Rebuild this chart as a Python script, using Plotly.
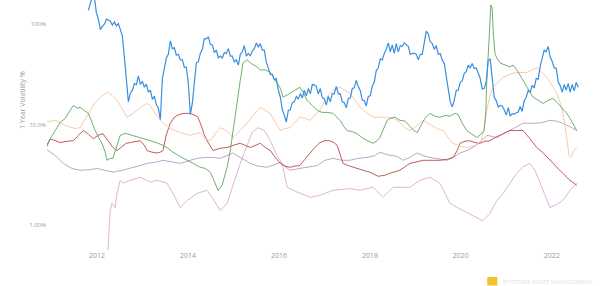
import plotly.graph_objects as go

# ---------------- data (1 year volatility, %) ----------------
btc_start = 2011.81
btc_step = 0.04396
btc_vol = [
    137, 160, 190, 185, 130, 112, 88, 95, 100, 112,
    110, 107, 98, 105, 96, 101, 88, 76, 47, 28.5,
    16.8, 20.5, 22, 25.5, 25, 30.5, 25, 27, 23.5, 25.3,
    21, 22, 17.8, 19.2, 15.8, 14.5, 11.2, 28.5, 37, 46,
    50, 68, 57, 58, 49, 50, 44, 44, 37, 37,
    25.5, 12.6, 16.3, 28, 41, 42, 51, 56, 72, 71,
    75, 63, 62, 52, 55, 46, 48, 46, 52, 51,
    57, 48, 48, 42, 44, 39, 50, 53, 61, 48,
    51, 48, 54, 57, 65, 59, 64, 55, 55, 42,
    36.5, 31.5, 31.5, 27.8, 28.7, 22,
    18.8, 14, 12.4, 10.6, 13.8, 14, 16.5, 16.8, 19, 18,
    20.3, 18.4, 21.8, 19.3, 22.8, 20.2, 25, 24.8, 24, 20.2,
    22.8, 18.4, 18.1, 15.6, 19, 16.8, 20.3, 20.2, 24, 20.2,
    20.3, 16.8, 16.5, 14.7, 18.1, 18.4, 22.8, 23.2, 27.5, 23.7,
    21.8, 17.5, 17.3, 15.3, 19, 19.3, 24, 26.5, 34.5, 36.5,
    45,
    44, 51, 56, 65, 53, 62, 51, 64, 53, 61,
    60, 65, 63, 60, 50, 51, 51, 50, 44, 50,
    50, 68, 85, 80, 67, 64, 56, 61, 50, 51,
    44, 40.5, 30, 21.2, 16.8, 15, 17.5, 21.8, 22, 26.3,
    27.2, 32.3, 33.6, 39, 36.5, 40.5, 36, 36.5, 31.7, 28.7,
    22.6, 22.8, 26.5, 43.5, 45, 26.8, 18.7, 17.3, 14.9, 15.5,
    15.3, 14, 12.4, 14.7, 12.1, 12.8, 12.7, 13.1, 13.3, 15.1,
    13.5, 17.3, 18.7, 21.8, 21, 24.5, 23.1, 28.7, 28.3, 38,
    45, 55, 53, 60, 47, 42.5, 36.5, 36.4, 26.5, 24.4,
    21, 25, 22, 25.6, 21, 25, 21.6, 26.2, 23.5,
]
btc_years = [btc_start + i * btc_step for i in range(len(btc_vol))]

green_years = [2010.86, 2010.97, 2011.08, 2011.19, 2011.30, 2011.41, 2011.48, 2011.56, 2011.63, 2011.72,
               2011.81, 2011.89, 2011.96, 2012.05, 2012.11, 2012.18, 2012.22, 2012.29, 2012.35, 2012.42,
               2012.51, 2012.60, 2012.66, 2012.77, 2012.86, 2012.95, 2013.06, 2013.17, 2013.30, 2013.45,
               2013.56, 2013.67, 2013.83, 2013.98, 2014.11, 2014.27, 2014.38, 2014.49, 2014.57, 2014.66,
               2014.75, 2014.82, 2014.86, 2014.93, 2014.99, 2015.06, 2015.15, 2015.21, 2015.30, 2015.41,
               2015.50, 2015.59, 2015.70, 2015.81, 2015.92, 2016.03, 2016.09, 2016.18, 2016.24, 2016.35,
               2016.46, 2016.53, 2016.62, 2016.73, 2016.84, 2016.95, 2017.06, 2017.19, 2017.28, 2017.34,
               2017.43, 2017.50, 2017.61, 2017.72, 2017.83, 2017.94, 2018.07, 2018.16, 2018.22, 2018.31,
               2018.38, 2018.44, 2018.55, 2018.66, 2018.77, 2018.88, 2018.97, 2019.04, 2019.12, 2019.21,
               2019.32, 2019.43, 2019.54, 2019.65, 2019.76, 2019.87, 2019.94, 2020.02, 2020.13, 2020.24,
               2020.35, 2020.44, 2020.51, 2020.55, 2020.57, 2020.62, 2020.64, 2020.66, 2020.69, 2020.71,
               2020.75, 2020.79, 2020.86, 2020.97, 2021.08, 2021.15, 2021.23, 2021.34, 2021.45, 2021.52,
               2021.59, 2021.70, 2021.81, 2021.92, 2022.03, 2022.11, 2022.18, 2022.27, 2022.33, 2022.40,
               2022.46, 2022.55]
green_vol = [5.5, 7.2, 8.7, 10.5, 11.5, 13.8, 15.5, 14.5, 14.8, 13.8,
             12.9, 10.5, 8.7, 7.2, 6.5, 5.3, 4.4, 4.6, 4.6, 5.8,
             7.8, 8.1, 8.1, 7.8, 7.6, 7.4, 7.2, 6.9, 6.6, 6.2,
             5.8, 5.3, 4.8, 4.4, 4.1, 3.75, 3.65, 3.35, 2.78, 2.21,
             2.48, 3.12, 3.75, 5.5, 8.7, 15.5, 27.6, 41, 44, 40,
             38, 35, 35, 33, 27.6, 23, 18.7, 19.5, 20.4, 21.9,
             23.5, 20.9, 17.4, 15.5, 13.8, 13.2, 13.2, 12.9, 11.8, 11.0,
             9.5, 8.7, 8.5, 8.1, 7.4, 6.9, 6.5, 6.9, 7.4, 9.1,
             11.0, 11.5, 11.8, 11.0, 10.8, 9.6, 8.7, 8.3, 9.8, 11.5,
             12.9, 12.1, 11.8, 12.3, 12.1, 12.9, 12.6, 10.5, 8.7, 8.0,
             7.4, 8.0, 8.7, 13.8, 27.6, 69, 123, 155, 144, 87,
             51, 46, 41, 39, 37.5, 39, 35, 29, 23.5, 20.9,
             18.7, 17.4, 16.2, 17.4, 18.2, 16.6, 15.5, 13.8, 12.9, 11.5,
             10.3, 8.7]

orange_years = [2010.86, 2011.08, 2011.30, 2011.52, 2011.63, 2011.74, 2011.85, 2011.96, 2012.07, 2012.18,
                2012.24, 2012.33, 2012.44, 2012.55, 2012.66, 2012.77, 2012.88, 2012.99, 2013.10, 2013.17,
                2013.23, 2013.34, 2013.45, 2013.61, 2013.83, 2014.05, 2014.27, 2014.38, 2014.49, 2014.60,
                2014.71, 2014.84, 2014.99, 2015.15, 2015.30, 2015.43, 2015.59, 2015.70, 2015.81, 2015.92,
                2016.03, 2016.13, 2016.24, 2016.35, 2016.46, 2016.57, 2016.68, 2016.79, 2016.90, 2017.01,
                2017.12, 2017.23, 2017.34, 2017.45, 2017.56, 2017.67, 2017.78, 2017.94, 2018.07, 2018.22,
                2018.38, 2018.51, 2018.66, 2018.77, 2018.88, 2019.04, 2019.17, 2019.32, 2019.48, 2019.61,
                2019.72, 2019.83, 2019.98, 2020.13, 2020.24, 2020.35, 2020.44, 2020.51, 2020.57, 2020.64,
                2020.71, 2020.82, 2020.93, 2021.04, 2021.15, 2021.30, 2021.45, 2021.56, 2021.67, 2021.78,
                2021.89, 2022.00, 2022.11, 2022.18, 2022.24, 2022.29, 2022.33, 2022.38, 2022.42, 2022.49,
                2022.55]
orange_vol = [10.5, 11.0, 9.8, 9.1, 9.3, 11.5, 13.8, 16.6, 18.7, 20.4,
              20.9, 19.5, 17.4, 14.5, 11.8, 12.6, 13.8, 15.2, 16.2, 15.5,
              13.8, 11.8, 10.3, 9.1, 8.3, 7.8, 8.3, 7.2, 6.9, 8.1,
              9.3, 8.7, 7.4, 8.7, 10.3, 12.3, 14.9, 13.8, 12.9, 10.5,
              8.7, 9.1, 9.3, 10.5, 11.8, 11.5, 11.0, 12.3, 13.8, 17.4,
              20.4, 22.4, 23.5, 21.9, 20.4, 17.4, 14.9, 12.9, 11.8, 11.8,
              11.8, 11.5, 10.5, 9.3, 8.7, 9.8, 11.0, 10.0, 9.1, 8.7,
              7.4, 6.5, 6.1, 5.9, 6.1, 6.2, 6.9, 8.7, 13.8, 19.5,
              23.5, 26.4, 29.5, 31, 32.5, 33, 33, 35, 36.5, 33,
              29.5, 24.6, 20.4, 16.6, 13.2, 9.8, 6.9, 4.9, 4.7, 5.5,
              5.9]

red_years = [2010.86, 2010.97, 2011.08, 2011.19, 2011.34, 2011.48, 2011.59, 2011.70, 2011.81, 2011.92,
             2012.02, 2012.13, 2012.24, 2012.35, 2012.44, 2012.55, 2012.64, 2012.73, 2012.84, 2012.95,
             2013.04, 2013.10, 2013.21, 2013.32, 2013.39, 2013.45, 2013.52, 2013.61, 2013.70, 2013.76,
             2013.89, 2014.05, 2014.16, 2014.22, 2014.29, 2014.35, 2014.42, 2014.49, 2014.55, 2014.71,
             2014.86, 2014.99, 2015.15, 2015.26, 2015.37, 2015.48, 2015.59, 2015.70, 2015.81, 2015.92,
             2016.03, 2016.13, 2016.24, 2016.35, 2016.46, 2016.57, 2016.68, 2016.79, 2016.90, 2017.01,
             2017.12, 2017.21, 2017.28, 2017.34, 2017.41, 2017.52, 2017.63, 2017.74, 2017.85, 2018.00,
             2018.18, 2018.33, 2018.44, 2018.66, 2018.88, 2018.99, 2019.17, 2019.32, 2019.54, 2019.70,
             2019.83, 2019.92, 2019.98, 2020.09, 2020.20, 2020.31, 2020.42, 2020.53, 2020.64, 2020.75,
             2020.86, 2020.97, 2021.08, 2021.23, 2021.37, 2021.52, 2021.67, 2021.81, 2021.96, 2022.11,
             2022.24, 2022.40, 2022.55]
red_vol = [5.8, 7.2, 6.9, 6.6, 6.8, 6.9, 7.8, 8.7, 8.0, 7.2,
           7.8, 8.1, 6.9, 5.9, 5.5, 6.0, 6.5, 6.6, 6.8, 6.9,
           6.2, 5.5, 5.3, 5.2, 5.3, 5.5, 7.8, 10.3, 11.8, 12.3,
           12.9, 12.9, 12.3, 11.8, 9.8, 8.1, 6.9, 6.2, 5.5, 5.8,
           5.9, 6.2, 6.5, 6.2, 5.9, 6.2, 6.5, 5.9, 5.5, 4.7,
           4.1, 3.85, 3.75, 3.85, 3.9, 4.5, 5.2, 5.9, 6.6, 6.9,
           6.9, 6.6, 6.2, 5.2, 4.1, 3.9, 3.75, 3.65, 3.5, 3.35,
           3.05, 3.12, 3.27, 3.5, 4.1, 4.2, 4.4, 4.4, 4.4, 4.5,
           4.7, 5.5, 6.5, 6.8, 6.9, 6.6, 6.5, 6.8, 6.9, 7.4,
           7.8, 8.3, 8.7, 8.7, 8.7, 7.2, 5.9, 5.2, 4.4, 3.75,
           3.27, 2.78, 2.48]

mauve_years = [2010.86, 2011.08, 2011.26, 2011.45, 2011.63, 2011.85, 2012.00, 2012.18, 2012.35, 2012.55,
               2012.73, 2012.95, 2013.10, 2013.28, 2013.45, 2013.65, 2013.83, 2014.05, 2014.20, 2014.38,
               2014.53, 2014.71, 2014.86, 2014.99, 2015.15, 2015.37, 2015.54, 2015.74, 2015.92, 2016.03,
               2016.13, 2016.24, 2016.46, 2016.64, 2016.84, 2017.01, 2017.19, 2017.39, 2017.56, 2017.74,
               2017.94, 2018.11, 2018.22, 2018.38, 2018.51, 2018.60, 2018.73, 2018.88, 2019.04, 2019.17,
               2019.32, 2019.54, 2019.70, 2019.83, 2019.98, 2020.13, 2020.26, 2020.42, 2020.57, 2020.69,
               2020.79, 2020.93, 2021.08, 2021.23, 2021.37, 2021.52, 2021.67, 2021.81, 2021.96, 2022.11,
               2022.24, 2022.40, 2022.55]
mauve_vol = [5.8, 4.9, 4.1, 3.65, 3.5, 3.55, 3.65, 3.5, 3.35, 3.5,
             3.65, 3.9, 4.1, 4.2, 4.4, 4.2, 4.1, 4.4, 4.6, 4.7,
             4.7, 4.6, 4.9, 5.2, 4.7, 4.1, 3.85, 3.75, 4.0, 4.2,
             3.85, 3.5, 3.65, 3.75, 3.9, 4.4, 4.6, 4.4, 4.4, 4.6,
             4.7, 4.9, 5.3, 5.0, 4.9, 4.8, 4.4, 4.7, 5.2, 4.9,
             4.7, 4.5, 4.4, 4.7, 5.2, 5.5, 5.9, 6.6, 7.8, 7.6,
             7.4, 8.1, 8.7, 9.5, 10.3, 10.3, 10.3, 10.5, 11.0, 10.8,
             10.3, 9.5, 8.7]

pink_years = [2012.24, 2012.27, 2012.29, 2012.33, 2012.40, 2012.44, 2012.51, 2012.57, 2012.73, 2012.95,
              2013.17, 2013.32, 2013.54, 2013.67, 2013.83, 2013.98, 2014.20, 2014.42, 2014.55, 2014.71,
              2014.86, 2014.99, 2015.15, 2015.30, 2015.41, 2015.54, 2015.68, 2015.81, 2015.96, 2016.07,
              2016.18, 2016.31, 2016.46, 2016.69, 2016.90, 2017.19, 2017.56, 2017.78, 2018.07, 2018.29,
              2018.51, 2018.88, 2019.10, 2019.32, 2019.54, 2019.76, 2019.92, 2020.05, 2020.20, 2020.35,
              2020.48, 2020.64, 2020.79, 2020.93, 2021.08, 2021.23, 2021.37, 2021.52, 2021.63, 2021.74,
              2021.85, 2021.96, 2022.11, 2022.24, 2022.40, 2022.55]
pink_vol = [0.56, 0.88, 1.39, 1.64, 1.49, 2.06, 2.78, 2.6, 2.78, 2.98,
            2.66, 2.78, 2.6, 2.06, 1.49, 1.75, 2.06, 2.21, 1.82, 1.39,
            1.64, 2.48, 4.1, 6.2, 8.3, 9.3, 8.7, 6.9, 4.9, 4.1,
            2.37, 2.21, 2.06, 1.88, 1.97, 2.21, 2.3, 2.21, 2.37, 1.88,
            2.37, 2.37, 2.78, 2.98, 2.6, 1.64, 1.49, 1.39, 1.27, 1.18,
            1.10, 1.3, 1.75, 2.06, 2.6, 3.27, 3.8, 4.1, 3.5, 2.6,
            1.97, 1.49, 1.6, 1.75, 2.21, 2.6]

x_tick_vals = [2012, 2014, 2016, 2018, 2020, 2022]
x_tick_text = ["2012", "2014", "2016", "2018", "2020", "2022"]
y_tick_vals = [1, 10, 100]
y_tick_text = ["1.00%", "10.0%", "100%"]

# ---------------- figure ----------------
fig = go.Figure()

thin = [
    (pink_years, pink_vol, "#dca8d6", 0.9),
    (mauve_years, mauve_vol, "#b89ac6", 0.9),
    (red_years, red_vol, "#b94848", 0.9),
    (orange_years, orange_vol, "#f4c4a0", 0.9),
    (green_years, green_vol, "#5fa55f", 0.9),
]
for xs, ys, col, w in thin:
    fig.add_trace(go.Scatter(x=xs, y=ys, mode="lines",
                             line=dict(color=col, width=w), hoverinfo="skip"))

fig.add_trace(go.Scatter(x=btc_years, y=btc_vol, mode="lines",
                         line=dict(color="#3a8ee0", width=1.2), hoverinfo="skip"))

fig.update_layout(
    width=600, height=286,
    margin=dict(l=47, r=20, t=0, b=36),
    paper_bgcolor="white", plot_bgcolor="white",
    showlegend=False,
    font=dict(family="Open Sans", size=7, color="#9a9a9a"),
    xaxis=dict(range=[2010.9, 2022.62], tickvals=x_tick_vals, ticktext=x_tick_text,
               showgrid=False, zeroline=False, showline=False, ticks="",
               tickfont=dict(size=7, color="#9a9a9a")),
    yaxis=dict(type="log", range=[-0.25, 2.24], tickvals=y_tick_vals, ticktext=y_tick_text,
               showgrid=False, zeroline=False, showline=False, ticks="",
               tickfont=dict(size=6, color="#9a9a9a")),
    annotations=[
        dict(text="1 Year Volatility %", textangle=-90, xref="paper", yref="paper",
             x=-0.047, y=0.6, xanchor="center", yanchor="middle", showarrow=False,
             font=dict(size=7, color="#9a9a9a")),
        dict(text="BYTETREE ASSET MANAGEMENT", xref="paper", yref="paper",
             x=0.852, y=-0.105, xanchor="left", yanchor="top", showarrow=False,
             font=dict(size=6, color="#e3e3e3")),
    ],
    shapes=[
        dict(type="rect", xref="paper", yref="paper", x0=0.826, x1=0.845,
             y0=-0.142, y1=-0.108, fillcolor="#f2c230", line=dict(width=0)),
    ],
)

fig.write_html("out.html")
